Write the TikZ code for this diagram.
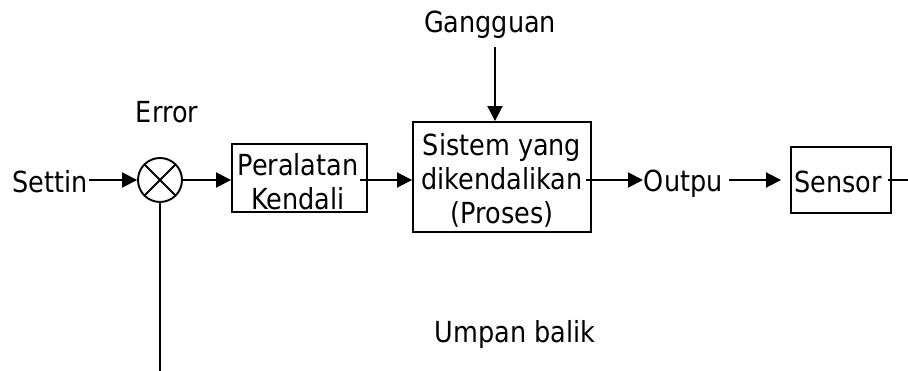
\documentclass[tikz,border=0pt]{standalone}
\usepackage{fontspec}
\setmainfont{DejaVu Sans}[FakeStretch=0.88]
\usetikzlibrary{arrows.meta}
\begin{document}
\begin{tikzpicture}[x=1pt,y=-1pt,
  line width=1.9pt,
  font=\fontsize{29}{34}\selectfont,
  arr/.style={-{Triangle[length=15pt,width=15pt]}},
  lbl/.style={inner sep=0pt},
  blk/.style={draw, inner sep=0pt},
  txt/.style={inner sep=0pt, align=center}
]
\useasboundingbox (0,0) rectangle (908,371);

% blocks of the loop
\node[draw, circle, inner sep=0pt, minimum size=44pt] (sum) at (160,180) {};
\draw (sum.north west) -- (sum.south east) (sum.north east) -- (sum.south west);
\node[blk, minimum width=135pt, minimum height=68pt] (pk) at (299.5,178) {};
\node[txt] (pkt) at (298,182) {Peralatan\\Kendali};
\node[blk, minimum width=178pt, minimum height=110pt] (sys) at (502,177) {};
\node[txt] (syst) at (502,180) {Sistem yang\\dikendalikan\\(Proses)};
\node[blk, minimum width=100pt, minimum height=66pt] (sens) at (841,180) {};
\node[txt] (senst) at (838,182) {Sensor};

% signal labels
\node[lbl] (settin) at (50,182) {Settin};
\node[lbl] (err) at (167,112) {Error};
\node[lbl] (gang) at (490,25) {Gangguan};
\node[lbl, anchor=west] (outpu) at (643,184) {Outpu};
\node[lbl] (umpan) at (515,335) {Umpan balik};

% free ends
\coordinate (gin) at (495,47);
\coordinate (fbR) at (908,180);
\coordinate (fbL) at (160,371);

% connectors
\draw[arr] (settin.east |- sum) -- (sum.west);
\draw[arr] (sum.east) -- (pk.west |- sum);
\draw[arr] ([xshift=-8pt]pk.east |- sum) -- (sys.west |- sum);
\draw[arr] (gin) -- (gin |- sys.north);
\draw[arr] ([xshift=-6pt]sys.east |- sum) -- (outpu.west |- sum);
\draw[arr] ([xshift=5pt]outpu.east |- sum) -- ([xshift=-9pt]sens.west |- sum);
\draw ([xshift=-4pt]sens.east |- sum) -- (fbR);
\draw (sum.south) -- (fbL);
\end{tikzpicture}
\end{document}
